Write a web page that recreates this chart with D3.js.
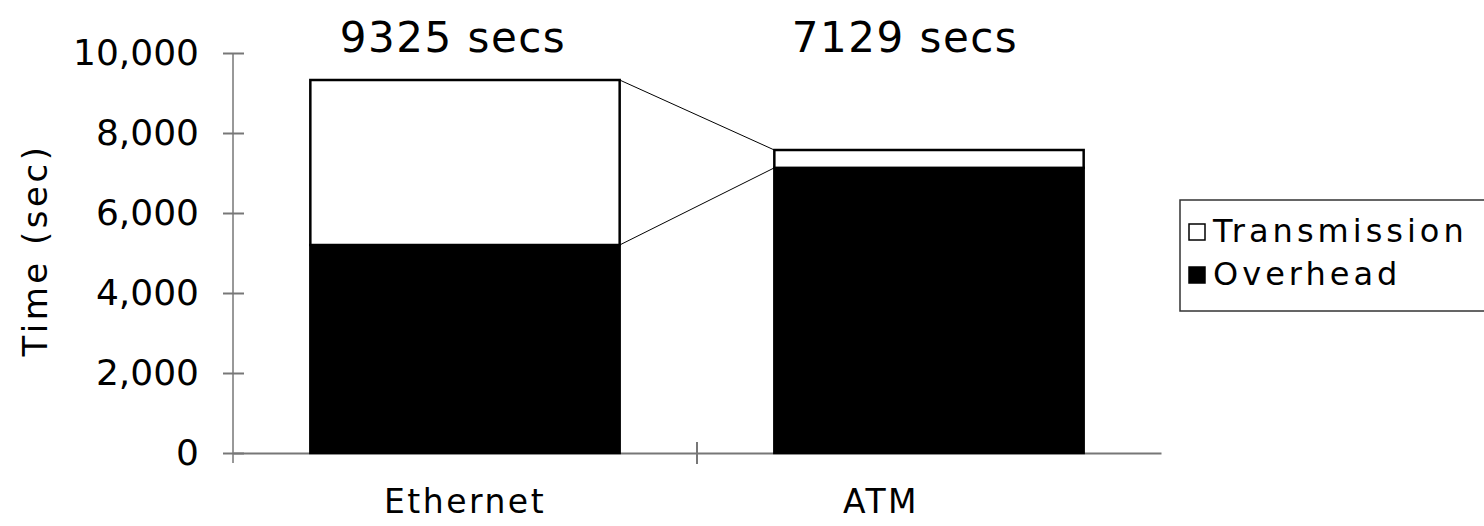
<!DOCTYPE html>
<html>
<head>
<meta charset="utf-8">
<script src="https://cdn.jsdelivr.net/npm/d3@7"></script>
<style>
  html, body { margin: 0; padding: 0; background: #fff; }
  svg { display: block; font-family: "DejaVu Sans", Verdana, sans-serif; }
</style>
</head>
<body>
<svg id="chart" width="1484" height="526"></svg>
<script>
// Run time split into overhead and transmission, per network type
const categories   = ["Ethernet", "ATM"];
const overhead     = [5200, 7129];
const transmission = [4125, 446];
const runTimes     = [9325, 7129];   // values printed above each bar
const yTicks       = [0, 2000, 4000, 6000, 8000, 10000];
const seriesNames  = ["Transmission", "Overhead"];

const svg = d3.select("#chart");

const x = d3.scaleBand()
  .domain(categories)
  .range([233, 1161])
  .paddingInner(1 / 3)
  .paddingOuter(1 / 6);

const y = d3.scaleLinear().domain([0, 10000]).range([453, 53]);

// stacked layers: overhead at the bottom, transmission on top
const rows = categories.map((c, i) => ({ cat: c, Overhead: overhead[i], Transmission: transmission[i] }));
const stack = d3.stack().keys(["Overhead", "Transmission"])(rows);
const fills = { Overhead: "#000", Transmission: "#fff" };

// connector lines between the two bars (series boundaries)
const e = rows[0], a = rows[1];
const xr = x(e.cat) + x.bandwidth(), xl = x(a.cat);
svg.append("g").attr("stroke", "#000").attr("stroke-width", 1)
  .selectAll("line")
  .data([[e.Overhead + e.Transmission, a.Overhead + a.Transmission], [e.Overhead, a.Overhead]])
  .join("line")
  .attr("x1", xr).attr("y1", d => y(d[0]))
  .attr("x2", xl).attr("y2", d => y(d[1]));

// axes
const yAxis = svg.append("g")
  .attr("transform", "translate(233,0)")
  .call(d3.axisLeft(y).tickValues(yTicks).tickSize(10).tickSizeOuter(0)
    .tickFormat(d3.format(",")).tickPadding(24));
yAxis.select(".domain").attr("stroke", "#333").attr("d", `M0,${y(10000)}V463`);
yAxis.selectAll(".tick line").attr("stroke", "#777").attr("stroke-width", 2).attr("x2", 11).attr("x1", -10);
yAxis.selectAll(".tick text").attr("font-size", 36).attr("fill", "#000")
  .attr("font-family", "DejaVu Sans");

// category labels (the ATM caption sits left of its bar centre)
const catShift = [0, -48];
const xAxis = svg.append("g")
  .attr("transform", "translate(0,453)")
  .call(d3.axisBottom(x).tickSize(0).tickSizeOuter(0));
xAxis.select(".domain").attr("stroke", "#777").attr("stroke-width", 2);
xAxis.selectAll(".tick text").attr("font-size", 33).attr("fill", "#000")
  .attr("font-family", "DejaVu Sans").attr("letter-spacing", 2.5)
  .attr("dy", null).attr("y", 60)
  .attr("x", (d, i) => catShift[i]);
// category separators
const step = x.step();
xAxis.selectAll(".sep")
  .data(categories.map((c, i) => x(c) - x.paddingOuter() * step + step * (i + 1)))
  .join("line")
  .attr("class", "sep")
  .attr("x1", d => d).attr("x2", d => d)
  .attr("y1", -11).attr("y2", 11)
  .attr("stroke", "#777").attr("stroke-width", 2);

// bars
svg.append("g").selectAll("g")
  .data(stack)
  .join("g")
  .attr("fill", d => fills[d.key])
  .selectAll("rect")
  .data(d => d)
  .join("rect")
  .attr("x", d => x(d.data.cat))
  .attr("width", x.bandwidth())
  .attr("y", d => y(d[1]))
  .attr("height", d => y(d[0]) - y(d[1]))
  .attr("stroke", "#000")
  .attr("stroke-width", 2.5);

// run-time labels above the bars (text boxes sit slightly left of bar centre)
const labelShift = [-12, -24];
svg.append("g").selectAll("text")
  .data(categories)
  .join("text")
  .attr("x", (c, i) => x(c) + x.bandwidth() / 2 + labelShift[i])
  .attr("y", 52)
  .attr("text-anchor", "middle")
  .attr("font-size", 42)
  .attr("letter-spacing", 1.5)
  .text((c, i) => `${runTimes[i]} secs`);

// y-axis title
svg.append("text")
  .attr("transform", "translate(47,250) rotate(-90)")
  .attr("text-anchor", "middle")
  .attr("font-size", 34)
  .attr("letter-spacing", 3.5)
  .text("Time (sec)");

// legend
const lg = svg.append("g").attr("transform", "translate(1180,200)");
lg.append("rect").attr("x", 0).attr("y", 0).attr("width", 320).attr("height", 111)
  .attr("fill", "#fff").attr("stroke", "#333").attr("stroke-width", 1.5);
const items = lg.selectAll("g.item")
  .data(seriesNames)
  .join("g")
  .attr("class", "item")
  .attr("transform", (d, i) => `translate(0,${i * 43})`);
items.append("rect")
  .attr("x", 9).attr("y", 24).attr("width", 16).attr("height", 16)
  .attr("fill", d => d === "Overhead" ? "#000" : "#fff")
  .attr("stroke", "#000").attr("stroke-width", 1.5);
items.append("text")
  .attr("x", 33).attr("y", 42)
  .attr("font-size", 32)
  .attr("letter-spacing", 4)
  .text(d => d);
</script>
</body>
</html>
